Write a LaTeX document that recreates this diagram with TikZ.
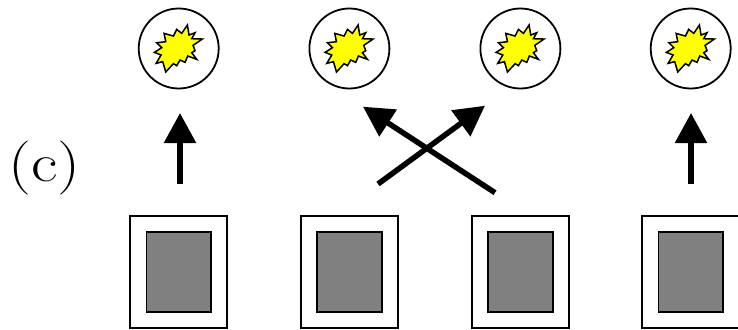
\documentclass[tikz,border=0pt]{standalone}
\usetikzlibrary{arrows.meta}
\definecolor{burstyellow}{RGB}{255,255,0}
\definecolor{coregray}{RGB}{128,128,128}
\tikzstyle{lamp} = [draw=black,line width=1.8pt,circle,minimum size=80pt,inner sep=0pt]
\tikzstyle{outerbox} = [draw=black,line width=1.8pt,minimum width=97pt,minimum height=112pt,inner sep=0pt]
\tikzstyle{innerbox} = [draw=black,line width=1.8pt,fill=coregray,minimum width=64.5pt,minimum height=80.5pt,inner sep=0pt]
\tikzstyle{bigarrow} = [line width=5.5pt,-{Triangle[length=30pt,width=31pt]}]
\tikzset{
  burst/.pic={
    \draw[line width=1.5pt,fill=burstyellow,line join=miter,miter limit=6,x=0.333pt,y=-0.333pt]
      (72,-23) -- (44,-4) -- (50,12) -- (40,18) -- (55,38) -- (28,28) -- (20,47) -- (5,40)
      -- (-5,57) -- (-15,51) -- (-38,76) -- (-47,45) -- (-67,50) -- (-52,25) -- (-72,17)
      -- (-50,3) -- (-65,-12) -- (-38,-15) -- (-43,-40) -- (-15,-32) -- (-5,-52) -- (10,-40)
      -- (27,-65) -- (32,-35) -- (50,-42) -- (40,-24) -- cycle;
  }
}

\begin{document}
\begin{tikzpicture}[x=1pt,y=-1pt]
  \useasboundingbox (0,0) rectangle (738,329);
  \node[anchor=base,font=\fontsize{54pt}{54pt}\selectfont] (label) at (44.5,181.7) {\scalebox{1.2}[1]{(c)}};
  \foreach \name/\xpos in {a/178.7,b/349.4,c/520.4,d/690.7} {
    \node[lamp] (lamp\name) at (\xpos,48.5) {};
    \pic at ([shift={(-0.3,-1.8)}]lamp\name.center) {burst};
    \node[outerbox] (box\name) at (\xpos,272) {};
    \node[innerbox] (core\name) at (\xpos,272) {};
  }
  \coordinate (froma) at (180,184);
  \coordinate (toa) at (180,113);
  \coordinate (fromb) at (495,192.7);
  \coordinate (tob) at (363,106.7);
  \coordinate (fromc) at (378,184);
  \coordinate (toc) at (485,105.7);
  \coordinate (fromd) at (691,184);
  \coordinate (tod) at (691,113);
  \draw[bigarrow] (froma) -- (toa);
  \draw[bigarrow] (fromb) -- (tob);
  \draw[bigarrow] (fromc) -- (toc);
  \draw[bigarrow] (fromd) -- (tod);
\end{tikzpicture}
\end{document}
